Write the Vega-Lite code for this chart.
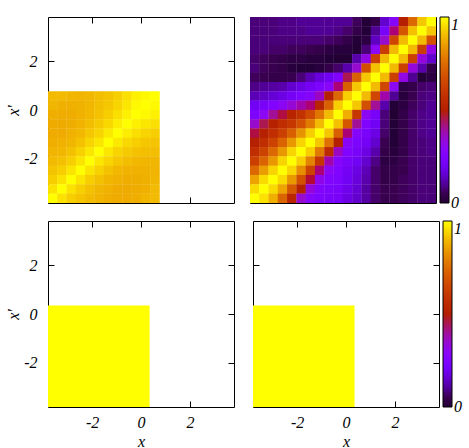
{
"$schema":"https://vega.github.io/schema/vega-lite/v6.json",
"padding":{"left":5,"top":16,"right":0,"bottom":0},
"background":"white",
"config":{
"view":{"stroke":"#000","strokeWidth":1},
"axis":{"domain":false,"grid":false,"tickSize":-6,"tickColor":"#000","tickWidth":1,"labelFont":"Liberation Serif","labelFontStyle":"italic","labelFontSize":16,"labelColor":"#000","labelPadding":17,"titleFont":"Liberation Serif","titleFontStyle":"italic","titleFontSize":16,"titleFontWeight":"normal","titleColor":"#000","labelExpr":"replace(datum.label,'−','-')"},
"legend":{"title":null,"gradientLength":186,"gradientThickness":9,"offset":3,"padding":0,"labelOffset":8,"gradientStrokeColor":"#000","gradientStrokeWidth":1,"labelFont":"Liberation Serif","labelFontStyle":"italic","labelFontSize":16,"labelColor":"#000"}
},
"datasets":{
"blk":[{"x0":-3.8,"x1":0.35,"y0":-3.8,"y1":0.35,"v":1}],
"tl":[
{"x":-3.61,"y":0.57,"v":0.9},{"x":-3.23,"y":0.57,"v":0.9},{"x":-2.85,"y":0.57,"v":0.895},{"x":-2.47,"y":0.57,"v":0.89},{"x":-2.09,"y":0.57,"v":0.895},{"x":-1.71,"y":0.57,"v":0.905},{"x":-1.33,"y":0.57,"v":0.915},{"x":-0.95,"y":0.57,"v":0.93},{"x":-0.57,"y":0.57,"v":0.955},{"x":-0.19,"y":0.57,"v":0.98},{"x":0.19,"y":0.57,"v":0.99},{"x":0.57,"y":0.57,"v":1},
{"x":-3.61,"y":0.19,"v":0.893},{"x":-3.23,"y":0.19,"v":0.883},{"x":-2.85,"y":0.19,"v":0.883},{"x":-2.47,"y":0.19,"v":0.887},{"x":-2.09,"y":0.19,"v":0.895},{"x":-1.71,"y":0.19,"v":0.907},{"x":-1.33,"y":0.19,"v":0.92},{"x":-0.95,"y":0.19,"v":0.94},{"x":-0.57,"y":0.19,"v":0.965},{"x":-0.19,"y":0.19,"v":0.99},{"x":0.19,"y":0.19,"v":1},{"x":0.57,"y":0.19,"v":0.99},
{"x":-3.61,"y":-0.19,"v":0.88},{"x":-3.23,"y":-0.19,"v":0.877},{"x":-2.85,"y":-0.19,"v":0.878},{"x":-2.47,"y":-0.19,"v":0.885},{"x":-2.09,"y":-0.19,"v":0.897},{"x":-1.71,"y":-0.19,"v":0.913},{"x":-1.33,"y":-0.19,"v":0.93},{"x":-0.95,"y":-0.19,"v":0.955},{"x":-0.57,"y":-0.19,"v":0.98},{"x":-0.19,"y":-0.19,"v":1},{"x":0.19,"y":-0.19,"v":0.99},{"x":0.57,"y":-0.19,"v":0.98},
{"x":-3.61,"y":-0.57,"v":0.875},{"x":-3.23,"y":-0.57,"v":0.873},{"x":-2.85,"y":-0.57,"v":0.878},{"x":-2.47,"y":-0.57,"v":0.888},{"x":-2.09,"y":-0.57,"v":0.905},{"x":-1.71,"y":-0.57,"v":0.925},{"x":-1.33,"y":-0.57,"v":0.945},{"x":-0.95,"y":-0.57,"v":0.975},{"x":-0.57,"y":-0.57,"v":1},{"x":-0.19,"y":-0.57,"v":0.98},{"x":0.19,"y":-0.57,"v":0.965},{"x":0.57,"y":-0.57,"v":0.955},
{"x":-3.61,"y":-0.95,"v":0.875},{"x":-3.23,"y":-0.95,"v":0.875},{"x":-2.85,"y":-0.95,"v":0.884},{"x":-2.47,"y":-0.95,"v":0.897},{"x":-2.09,"y":-0.95,"v":0.92},{"x":-1.71,"y":-0.95,"v":0.94},{"x":-1.33,"y":-0.95,"v":0.97},{"x":-0.95,"y":-0.95,"v":1},{"x":-0.57,"y":-0.95,"v":0.975},{"x":-0.19,"y":-0.95,"v":0.955},{"x":0.19,"y":-0.95,"v":0.94},{"x":0.57,"y":-0.95,"v":0.93},
{"x":-3.61,"y":-1.33,"v":0.88},{"x":-3.23,"y":-1.33,"v":0.885},{"x":-2.85,"y":-1.33,"v":0.895},{"x":-2.47,"y":-1.33,"v":0.912},{"x":-2.09,"y":-1.33,"v":0.94},{"x":-1.71,"y":-1.33,"v":0.965},{"x":-1.33,"y":-1.33,"v":1},{"x":-0.95,"y":-1.33,"v":0.97},{"x":-0.57,"y":-1.33,"v":0.945},{"x":-0.19,"y":-1.33,"v":0.93},{"x":0.19,"y":-1.33,"v":0.92},{"x":0.57,"y":-1.33,"v":0.915},
{"x":-3.61,"y":-1.71,"v":0.89},{"x":-3.23,"y":-1.71,"v":0.895},{"x":-2.85,"y":-1.71,"v":0.91},{"x":-2.47,"y":-1.71,"v":0.935},{"x":-2.09,"y":-1.71,"v":0.965},{"x":-1.71,"y":-1.71,"v":1},{"x":-1.33,"y":-1.71,"v":0.965},{"x":-0.95,"y":-1.71,"v":0.94},{"x":-0.57,"y":-1.71,"v":0.925},{"x":-0.19,"y":-1.71,"v":0.913},{"x":0.19,"y":-1.71,"v":0.907},{"x":0.57,"y":-1.71,"v":0.905},
{"x":-3.61,"y":-2.09,"v":0.9},{"x":-3.23,"y":-2.09,"v":0.91},{"x":-2.85,"y":-2.09,"v":0.932},{"x":-2.47,"y":-2.09,"v":0.963},{"x":-2.09,"y":-2.09,"v":1},{"x":-1.71,"y":-2.09,"v":0.965},{"x":-1.33,"y":-2.09,"v":0.94},{"x":-0.95,"y":-2.09,"v":0.92},{"x":-0.57,"y":-2.09,"v":0.905},{"x":-0.19,"y":-2.09,"v":0.897},{"x":0.19,"y":-2.09,"v":0.895},{"x":0.57,"y":-2.09,"v":0.895},
{"x":-3.61,"y":-2.47,"v":0.915},{"x":-3.23,"y":-2.47,"v":0.93},{"x":-2.85,"y":-2.47,"v":0.963},{"x":-2.47,"y":-2.47,"v":1},{"x":-2.09,"y":-2.47,"v":0.963},{"x":-1.71,"y":-2.47,"v":0.935},{"x":-1.33,"y":-2.47,"v":0.912},{"x":-0.95,"y":-2.47,"v":0.897},{"x":-0.57,"y":-2.47,"v":0.888},{"x":-0.19,"y":-2.47,"v":0.885},{"x":0.19,"y":-2.47,"v":0.887},{"x":0.57,"y":-2.47,"v":0.89},
{"x":-3.61,"y":-2.85,"v":0.93},{"x":-3.23,"y":-2.85,"v":0.96},{"x":-2.85,"y":-2.85,"v":1},{"x":-2.47,"y":-2.85,"v":0.963},{"x":-2.09,"y":-2.85,"v":0.932},{"x":-1.71,"y":-2.85,"v":0.91},{"x":-1.33,"y":-2.85,"v":0.895},{"x":-0.95,"y":-2.85,"v":0.884},{"x":-0.57,"y":-2.85,"v":0.878},{"x":-0.19,"y":-2.85,"v":0.878},{"x":0.19,"y":-2.85,"v":0.883},{"x":0.57,"y":-2.85,"v":0.895},
{"x":-3.61,"y":-3.23,"v":0.96},{"x":-3.23,"y":-3.23,"v":1},{"x":-2.85,"y":-3.23,"v":0.96},{"x":-2.47,"y":-3.23,"v":0.93},{"x":-2.09,"y":-3.23,"v":0.91},{"x":-1.71,"y":-3.23,"v":0.895},{"x":-1.33,"y":-3.23,"v":0.885},{"x":-0.95,"y":-3.23,"v":0.875},{"x":-0.57,"y":-3.23,"v":0.873},{"x":-0.19,"y":-3.23,"v":0.877},{"x":0.19,"y":-3.23,"v":0.883},{"x":0.57,"y":-3.23,"v":0.9},
{"x":-3.61,"y":-3.61,"v":1},{"x":-3.23,"y":-3.61,"v":0.96},{"x":-2.85,"y":-3.61,"v":0.93},{"x":-2.47,"y":-3.61,"v":0.915},{"x":-2.09,"y":-3.61,"v":0.9},{"x":-1.71,"y":-3.61,"v":0.89},{"x":-1.33,"y":-3.61,"v":0.88},{"x":-0.95,"y":-3.61,"v":0.875},{"x":-0.57,"y":-3.61,"v":0.875},{"x":-0.19,"y":-3.61,"v":0.88},{"x":0.19,"y":-3.61,"v":0.893},{"x":0.57,"y":-3.61,"v":0.9}
],
"corr":[
{"x":-3.61,"y":3.61,"v":0.08},{"x":-3.23,"y":3.61,"v":0.08},{"x":-2.85,"y":3.61,"v":0.08},{"x":-2.47,"y":3.61,"v":0.09},{"x":-2.09,"y":3.61,"v":0.09},{"x":-1.71,"y":3.61,"v":0.1},{"x":-1.33,"y":3.61,"v":0.1},{"x":-0.95,"y":3.61,"v":0.1},{"x":-0.57,"y":3.61,"v":0.1},{"x":-0.19,"y":3.61,"v":0.1},{"x":0.19,"y":3.61,"v":0.1},{"x":0.57,"y":3.61,"v":0.06},{"x":0.95,"y":3.61,"v":0.01},{"x":1.33,"y":3.61,"v":0.04},{"x":1.71,"y":3.61,"v":0.15},{"x":2.09,"y":3.61,"v":0.27},{"x":2.47,"y":3.61,"v":0.5},{"x":2.85,"y":3.61,"v":0.74},{"x":3.23,"y":3.61,"v":0.92},{"x":3.61,"y":3.61,"v":1},
{"x":-3.61,"y":3.23,"v":0.08},{"x":-3.23,"y":3.23,"v":0.08},{"x":-2.85,"y":3.23,"v":0.08},{"x":-2.47,"y":3.23,"v":0.09},{"x":-2.09,"y":3.23,"v":0.09},{"x":-1.71,"y":3.23,"v":0.09},{"x":-1.33,"y":3.23,"v":0.1},{"x":-0.95,"y":3.23,"v":0.1},{"x":-0.57,"y":3.23,"v":0.1},{"x":-0.19,"y":3.23,"v":0.09},{"x":0.19,"y":3.23,"v":0.07},{"x":0.57,"y":3.23,"v":0.04},{"x":0.95,"y":3.23,"v":0.01},{"x":1.33,"y":3.23,"v":0.1},{"x":1.71,"y":3.23,"v":0.22},{"x":2.09,"y":3.23,"v":0.42},{"x":2.47,"y":3.23,"v":0.7},{"x":2.85,"y":3.23,"v":0.91},{"x":3.23,"y":3.23,"v":1},{"x":3.61,"y":3.23,"v":0.92},
{"x":-3.61,"y":2.85,"v":0.08},{"x":-3.23,"y":2.85,"v":0.08},{"x":-2.85,"y":2.85,"v":0.08},{"x":-2.47,"y":2.85,"v":0.08},{"x":-2.09,"y":2.85,"v":0.08},{"x":-1.71,"y":2.85,"v":0.08},{"x":-1.33,"y":2.85,"v":0.08},{"x":-0.95,"y":2.85,"v":0.08},{"x":-0.57,"y":2.85,"v":0.07},{"x":-0.19,"y":2.85,"v":0.06},{"x":0.19,"y":2.85,"v":0.04},{"x":0.57,"y":2.85,"v":0.01},{"x":0.95,"y":2.85,"v":0.03},{"x":1.33,"y":2.85,"v":0.14},{"x":1.71,"y":2.85,"v":0.35},{"x":2.09,"y":2.85,"v":0.65},{"x":2.47,"y":2.85,"v":0.9},{"x":2.85,"y":2.85,"v":1},{"x":3.23,"y":2.85,"v":0.9},{"x":3.61,"y":2.85,"v":0.68},
{"x":-3.61,"y":2.47,"v":0.08},{"x":-3.23,"y":2.47,"v":0.08},{"x":-2.85,"y":2.47,"v":0.07},{"x":-2.47,"y":2.47,"v":0.07},{"x":-2.09,"y":2.47,"v":0.06},{"x":-1.71,"y":2.47,"v":0.06},{"x":-1.33,"y":2.47,"v":0.05},{"x":-0.95,"y":2.47,"v":0.04},{"x":-0.57,"y":2.47,"v":0.03},{"x":-0.19,"y":2.47,"v":0.02},{"x":0.19,"y":2.47,"v":0.02},{"x":0.57,"y":2.47,"v":0},{"x":0.95,"y":2.47,"v":0.08},{"x":1.33,"y":2.47,"v":0.3},{"x":1.71,"y":2.47,"v":0.62},{"x":2.09,"y":2.47,"v":0.9},{"x":2.47,"y":2.47,"v":1},{"x":2.85,"y":2.47,"v":0.9},{"x":3.23,"y":2.47,"v":0.62},{"x":3.61,"y":2.47,"v":0.32},
{"x":-3.61,"y":2.09,"v":0.07},{"x":-3.23,"y":2.09,"v":0.06},{"x":-2.85,"y":2.09,"v":0.05},{"x":-2.47,"y":2.09,"v":0.04},{"x":-2.09,"y":2.09,"v":0.03},{"x":-1.71,"y":2.09,"v":0.03},{"x":-1.33,"y":2.09,"v":0.02},{"x":-0.95,"y":2.09,"v":0.02},{"x":-0.57,"y":2.09,"v":0.01},{"x":-0.19,"y":2.09,"v":0},{"x":0.19,"y":2.09,"v":0},{"x":0.57,"y":2.09,"v":0.12},{"x":0.95,"y":2.09,"v":0.32},{"x":1.33,"y":2.09,"v":0.63},{"x":1.71,"y":2.09,"v":0.9},{"x":2.09,"y":2.09,"v":1},{"x":2.47,"y":2.09,"v":0.9},{"x":2.85,"y":2.09,"v":0.63},{"x":3.23,"y":2.09,"v":0.33},{"x":3.61,"y":2.09,"v":0.15},
{"x":-3.61,"y":1.71,"v":0.08},{"x":-3.23,"y":1.71,"v":0.06},{"x":-2.85,"y":1.71,"v":0.05},{"x":-2.47,"y":1.71,"v":0.04},{"x":-2.09,"y":1.71,"v":0.02},{"x":-1.71,"y":1.71,"v":0.01},{"x":-1.33,"y":1.71,"v":0.01},{"x":-0.95,"y":1.71,"v":0.02},{"x":-0.57,"y":1.71,"v":0.04},{"x":-0.19,"y":1.71,"v":0.07},{"x":0.19,"y":1.71,"v":0.12},{"x":0.57,"y":1.71,"v":0.35},{"x":0.95,"y":1.71,"v":0.67},{"x":1.33,"y":1.71,"v":0.91},{"x":1.71,"y":1.71,"v":1},{"x":2.09,"y":1.71,"v":0.9},{"x":2.47,"y":1.71,"v":0.63},{"x":2.85,"y":1.71,"v":0.33},{"x":3.23,"y":1.71,"v":0.12},{"x":3.61,"y":1.71,"v":0.04},
{"x":-3.61,"y":1.33,"v":0.06},{"x":-3.23,"y":1.33,"v":0.05},{"x":-2.85,"y":1.33,"v":0.04},{"x":-2.47,"y":1.33,"v":0.04},{"x":-2.09,"y":1.33,"v":0.05},{"x":-1.71,"y":1.33,"v":0.08},{"x":-1.33,"y":1.33,"v":0.13},{"x":-0.95,"y":1.33,"v":0.17},{"x":-0.57,"y":1.33,"v":0.2},{"x":-0.19,"y":1.33,"v":0.25},{"x":0.19,"y":1.33,"v":0.45},{"x":0.57,"y":1.33,"v":0.72},{"x":0.95,"y":1.33,"v":0.92},{"x":1.33,"y":1.33,"v":1},{"x":1.71,"y":1.33,"v":0.9},{"x":2.09,"y":1.33,"v":0.63},{"x":2.47,"y":1.33,"v":0.32},{"x":2.85,"y":1.33,"v":0.1},{"x":3.23,"y":1.33,"v":0.01},{"x":3.61,"y":1.33,"v":0.03},
{"x":-3.61,"y":0.95,"v":0.09},{"x":-3.23,"y":0.95,"v":0.1},{"x":-2.85,"y":0.95,"v":0.11},{"x":-2.47,"y":0.95,"v":0.12},{"x":-2.09,"y":0.95,"v":0.15},{"x":-1.71,"y":0.95,"v":0.18},{"x":-1.33,"y":0.95,"v":0.21},{"x":-0.95,"y":0.95,"v":0.24},{"x":-0.57,"y":0.95,"v":0.28},{"x":-0.19,"y":0.95,"v":0.42},{"x":0.19,"y":0.95,"v":0.72},{"x":0.57,"y":0.95,"v":0.92},{"x":0.95,"y":0.95,"v":1},{"x":1.33,"y":0.95,"v":0.9},{"x":1.71,"y":0.95,"v":0.65},{"x":2.09,"y":0.95,"v":0.3},{"x":2.47,"y":0.95,"v":0.03},{"x":2.85,"y":0.95,"v":0.04},{"x":3.23,"y":0.95,"v":0.07},{"x":3.61,"y":0.95,"v":0.08},
{"x":-3.61,"y":0.57,"v":0.13},{"x":-3.23,"y":0.57,"v":0.14},{"x":-2.85,"y":0.57,"v":0.16},{"x":-2.47,"y":0.57,"v":0.18},{"x":-2.09,"y":0.57,"v":0.21},{"x":-1.71,"y":0.57,"v":0.24},{"x":-1.33,"y":0.57,"v":0.27},{"x":-0.95,"y":0.57,"v":0.36},{"x":-0.57,"y":0.57,"v":0.5},{"x":-0.19,"y":0.57,"v":0.74},{"x":0.19,"y":0.57,"v":0.93},{"x":0.57,"y":0.57,"v":1},{"x":0.95,"y":0.57,"v":0.9},{"x":1.33,"y":0.57,"v":0.65},{"x":1.71,"y":0.57,"v":0.38},{"x":2.09,"y":0.57,"v":0.1},{"x":2.47,"y":0.57,"v":0.02},{"x":2.85,"y":0.57,"v":0.05},{"x":3.23,"y":0.57,"v":0.08},{"x":3.61,"y":0.57,"v":0.09},
{"x":-3.61,"y":0.19,"v":0.2},{"x":-3.23,"y":0.19,"v":0.22},{"x":-2.85,"y":0.19,"v":0.25},{"x":-2.47,"y":0.19,"v":0.29},{"x":-2.09,"y":0.19,"v":0.34},{"x":-1.71,"y":0.19,"v":0.38},{"x":-1.33,"y":0.19,"v":0.42},{"x":-0.95,"y":0.19,"v":0.52},{"x":-0.57,"y":0.19,"v":0.72},{"x":-0.19,"y":0.19,"v":0.93},{"x":0.19,"y":0.19,"v":1},{"x":0.57,"y":0.19,"v":0.92},{"x":0.95,"y":0.19,"v":0.68},{"x":1.33,"y":0.19,"v":0.4},{"x":1.71,"y":0.19,"v":0.12},{"x":2.09,"y":0.19,"v":0.01},{"x":2.47,"y":0.19,"v":0.03},{"x":2.85,"y":0.19,"v":0.06},{"x":3.23,"y":0.19,"v":0.08},{"x":3.61,"y":0.19,"v":0.1},
{"x":-3.61,"y":-0.19,"v":0.24},{"x":-3.23,"y":-0.19,"v":0.3},{"x":-2.85,"y":-0.19,"v":0.4},{"x":-2.47,"y":-0.19,"v":0.46},{"x":-2.09,"y":-0.19,"v":0.52},{"x":-1.71,"y":-0.19,"v":0.58},{"x":-1.33,"y":-0.19,"v":0.66},{"x":-0.95,"y":-0.19,"v":0.77},{"x":-0.57,"y":-0.19,"v":0.9},{"x":-0.19,"y":-0.19,"v":1},{"x":0.19,"y":-0.19,"v":0.88},{"x":0.57,"y":-0.19,"v":0.6},{"x":0.95,"y":-0.19,"v":0.3},{"x":1.33,"y":-0.19,"v":0.22},{"x":1.71,"y":-0.19,"v":0.08},{"x":2.09,"y":-0.19,"v":0},{"x":2.47,"y":-0.19,"v":0.04},{"x":2.85,"y":-0.19,"v":0.07},{"x":3.23,"y":-0.19,"v":0.09},{"x":3.61,"y":-0.19,"v":0.1},
{"x":-3.61,"y":-0.57,"v":0.35},{"x":-3.23,"y":-0.57,"v":0.45},{"x":-2.85,"y":-0.57,"v":0.5},{"x":-2.47,"y":-0.57,"v":0.56},{"x":-2.09,"y":-0.57,"v":0.6},{"x":-1.71,"y":-0.57,"v":0.68},{"x":-1.33,"y":-0.57,"v":0.78},{"x":-0.95,"y":-0.57,"v":0.9},{"x":-0.57,"y":-0.57,"v":1},{"x":-0.19,"y":-0.57,"v":0.91},{"x":0.19,"y":-0.57,"v":0.7},{"x":0.57,"y":-0.57,"v":0.4},{"x":0.95,"y":-0.57,"v":0.25},{"x":1.33,"y":-0.57,"v":0.2},{"x":1.71,"y":-0.57,"v":0.08},{"x":2.09,"y":-0.57,"v":0.01},{"x":2.47,"y":-0.57,"v":0.04},{"x":2.85,"y":-0.57,"v":0.07},{"x":3.23,"y":-0.57,"v":0.09},{"x":3.61,"y":-0.57,"v":0.1},
{"x":-3.61,"y":-0.95,"v":0.46},{"x":-3.23,"y":-0.95,"v":0.5},{"x":-2.85,"y":-0.95,"v":0.56},{"x":-2.47,"y":-0.95,"v":0.63},{"x":-2.09,"y":-0.95,"v":0.72},{"x":-1.71,"y":-0.95,"v":0.83},{"x":-1.33,"y":-0.95,"v":0.93},{"x":-0.95,"y":-0.95,"v":1},{"x":-0.57,"y":-0.95,"v":0.92},{"x":-0.19,"y":-0.95,"v":0.72},{"x":0.19,"y":-0.95,"v":0.42},{"x":0.57,"y":-0.95,"v":0.27},{"x":0.95,"y":-0.95,"v":0.23},{"x":1.33,"y":-0.95,"v":0.18},{"x":1.71,"y":-0.95,"v":0.07},{"x":2.09,"y":-0.95,"v":0.01},{"x":2.47,"y":-0.95,"v":0.04},{"x":2.85,"y":-0.95,"v":0.07},{"x":3.23,"y":-0.95,"v":0.09},{"x":3.61,"y":-0.95,"v":0.1},
{"x":-3.61,"y":-1.33,"v":0.5},{"x":-3.23,"y":-1.33,"v":0.56},{"x":-2.85,"y":-1.33,"v":0.64},{"x":-2.47,"y":-1.33,"v":0.73},{"x":-2.09,"y":-1.33,"v":0.84},{"x":-1.71,"y":-1.33,"v":0.94},{"x":-1.33,"y":-1.33,"v":1},{"x":-0.95,"y":-1.33,"v":0.92},{"x":-0.57,"y":-1.33,"v":0.76},{"x":-0.19,"y":-1.33,"v":0.5},{"x":0.19,"y":-1.33,"v":0.28},{"x":0.57,"y":-1.33,"v":0.24},{"x":0.95,"y":-1.33,"v":0.21},{"x":1.33,"y":-1.33,"v":0.15},{"x":1.71,"y":-1.33,"v":0.05},{"x":2.09,"y":-1.33,"v":0.01},{"x":2.47,"y":-1.33,"v":0.04},{"x":2.85,"y":-1.33,"v":0.07},{"x":3.23,"y":-1.33,"v":0.08},{"x":3.61,"y":-1.33,"v":0.09},
{"x":-3.61,"y":-1.71,"v":0.56},{"x":-3.23,"y":-1.71,"v":0.64},{"x":-2.85,"y":-1.71,"v":0.74},{"x":-2.47,"y":-1.71,"v":0.84},{"x":-2.09,"y":-1.71,"v":0.94},{"x":-1.71,"y":-1.71,"v":1},{"x":-1.33,"y":-1.71,"v":0.93},{"x":-0.95,"y":-1.71,"v":0.78},{"x":-0.57,"y":-1.71,"v":0.55},{"x":-0.19,"y":-1.71,"v":0.36},{"x":0.19,"y":-1.71,"v":0.25},{"x":0.57,"y":-1.71,"v":0.22},{"x":0.95,"y":-1.71,"v":0.18},{"x":1.33,"y":-1.71,"v":0.12},{"x":1.71,"y":-1.71,"v":0.04},{"x":2.09,"y":-1.71,"v":0.02},{"x":2.47,"y":-1.71,"v":0.04},{"x":2.85,"y":-1.71,"v":0.07},{"x":3.23,"y":-1.71,"v":0.08},{"x":3.61,"y":-1.71,"v":0.09},
{"x":-3.61,"y":-2.09,"v":0.63},{"x":-3.23,"y":-2.09,"v":0.73},{"x":-2.85,"y":-2.09,"v":0.84},{"x":-2.47,"y":-2.09,"v":0.94},{"x":-2.09,"y":-2.09,"v":1},{"x":-1.71,"y":-2.09,"v":0.93},{"x":-1.33,"y":-2.09,"v":0.8},{"x":-0.95,"y":-2.09,"v":0.6},{"x":-0.57,"y":-2.09,"v":0.38},{"x":-0.19,"y":-2.09,"v":0.27},{"x":0.19,"y":-2.09,"v":0.23},{"x":0.57,"y":-2.09,"v":0.2},{"x":0.95,"y":-2.09,"v":0.15},{"x":1.33,"y":-2.09,"v":0.09},{"x":1.71,"y":-2.09,"v":0.03},{"x":2.09,"y":-2.09,"v":0.03},{"x":2.47,"y":-2.09,"v":0.05},{"x":2.85,"y":-2.09,"v":0.07},{"x":3.23,"y":-2.09,"v":0.08},{"x":3.61,"y":-2.09,"v":0.08},
{"x":-3.61,"y":-2.47,"v":0.74},{"x":-3.23,"y":-2.47,"v":0.85},{"x":-2.85,"y":-2.47,"v":0.94},{"x":-2.47,"y":-2.47,"v":1},{"x":-2.09,"y":-2.47,"v":0.94},{"x":-1.71,"y":-2.47,"v":0.82},{"x":-1.33,"y":-2.47,"v":0.64},{"x":-0.95,"y":-2.47,"v":0.42},{"x":-0.57,"y":-2.47,"v":0.29},{"x":-0.19,"y":-2.47,"v":0.25},{"x":0.19,"y":-2.47,"v":0.21},{"x":0.57,"y":-2.47,"v":0.18},{"x":0.95,"y":-2.47,"v":0.13},{"x":1.33,"y":-2.47,"v":0.07},{"x":1.71,"y":-2.47,"v":0.04},{"x":2.09,"y":-2.47,"v":0.04},{"x":2.47,"y":-2.47,"v":0.05},{"x":2.85,"y":-2.47,"v":0.07},{"x":3.23,"y":-2.47,"v":0.08},{"x":3.61,"y":-2.47,"v":0.08},
{"x":-3.61,"y":-2.85,"v":0.86},{"x":-3.23,"y":-2.85,"v":0.95},{"x":-2.85,"y":-2.85,"v":1},{"x":-2.47,"y":-2.85,"v":0.95},{"x":-2.09,"y":-2.85,"v":0.84},{"x":-1.71,"y":-2.85,"v":0.68},{"x":-1.33,"y":-2.85,"v":0.47},{"x":-0.95,"y":-2.85,"v":0.31},{"x":-0.57,"y":-2.85,"v":0.25},{"x":-0.19,"y":-2.85,"v":0.24},{"x":0.19,"y":-2.85,"v":0.2},{"x":0.57,"y":-2.85,"v":0.17},{"x":0.95,"y":-2.85,"v":0.12},{"x":1.33,"y":-2.85,"v":0.07},{"x":1.71,"y":-2.85,"v":0.04},{"x":2.09,"y":-2.85,"v":0.04},{"x":2.47,"y":-2.85,"v":0.06},{"x":2.85,"y":-2.85,"v":0.07},{"x":3.23,"y":-2.85,"v":0.08},{"x":3.61,"y":-2.85,"v":0.08},
{"x":-3.61,"y":-3.23,"v":0.95},{"x":-3.23,"y":-3.23,"v":1},{"x":-2.85,"y":-3.23,"v":0.95},{"x":-2.47,"y":-3.23,"v":0.86},{"x":-2.09,"y":-3.23,"v":0.7},{"x":-1.71,"y":-3.23,"v":0.5},{"x":-1.33,"y":-3.23,"v":0.33},{"x":-0.95,"y":-3.23,"v":0.26},{"x":-0.57,"y":-3.23,"v":0.24},{"x":-0.19,"y":-3.23,"v":0.23},{"x":0.19,"y":-3.23,"v":0.19},{"x":0.57,"y":-3.23,"v":0.16},{"x":0.95,"y":-3.23,"v":0.11},{"x":1.33,"y":-3.23,"v":0.07},{"x":1.71,"y":-3.23,"v":0.05},{"x":2.09,"y":-3.23,"v":0.05},{"x":2.47,"y":-3.23,"v":0.06},{"x":2.85,"y":-3.23,"v":0.07},{"x":3.23,"y":-3.23,"v":0.08},{"x":3.61,"y":-3.23,"v":0.08},
{"x":-3.61,"y":-3.61,"v":1},{"x":-3.23,"y":-3.61,"v":0.96},{"x":-2.85,"y":-3.61,"v":0.88},{"x":-2.47,"y":-3.61,"v":0.73},{"x":-2.09,"y":-3.61,"v":0.53},{"x":-1.71,"y":-3.61,"v":0.35},{"x":-1.33,"y":-3.61,"v":0.27},{"x":-0.95,"y":-3.61,"v":0.24},{"x":-0.57,"y":-3.61,"v":0.23},{"x":-0.19,"y":-3.61,"v":0.22},{"x":0.19,"y":-3.61,"v":0.18},{"x":0.57,"y":-3.61,"v":0.15},{"x":0.95,"y":-3.61,"v":0.11},{"x":1.33,"y":-3.61,"v":0.07},{"x":1.71,"y":-3.61,"v":0.05},{"x":2.09,"y":-3.61,"v":0.05},{"x":2.47,"y":-3.61,"v":0.06},{"x":2.85,"y":-3.61,"v":0.07},{"x":3.23,"y":-3.61,"v":0.08},{"x":3.61,"y":-3.61,"v":0.08}
]
},
"spacing":8,
"resolve":{"scale":{"color":"independent"},"legend":{"color":"independent"}},
"vconcat":[
{"spacing":14,"resolve":{"scale":{"color":"independent"},"legend":{"color":"independent"}},
"hconcat":[
{"width":186,"height":186,"data":{"name":"tl"},
"layer":[
{"mark":{"type":"rect","width":9.6,"height":9.6,"clip":true},
"encoding":{
"x":{"field":"x","type":"quantitative","scale":{"domain":[-3.8,3.8],"nice":false,"zero":false},"axis":{"values":[-2,0,2],"labels":false,"title":null}},
"y":{"field":"y","type":"quantitative","scale":{"domain":[-3.8,3.8],"nice":false,"zero":false},"axis":{"values":[-2,0,2],"title":"x'","titlePadding":2}},
"color":{"field":"v","type":"quantitative","scale":{"domain":[0,0.05,0.1,0.15,0.2,0.25,0.3,0.35,0.4,0.45,0.5,0.55,0.6,0.65,0.7,0.75,0.8,0.85,0.9,0.95,1],"range":["#000000","#39004f","#510096","#6301ce","#7202f3","#8004ff","#8c07f3","#970bce","#a11096","#ab174f","#b42000","#bd2a00","#c63700","#ce4600","#d55700","#dd6c00","#e48300","#eb9d00","#f2ba00","#f9db00","#ffff00"],"clamp":true},"legend":null}}},
{"mark":{"type":"point","opacity":0},
"encoding":{
"x":{"field":"x","type":"quantitative","axis":{"orient":"top","values":[-2,0,2],"labels":false,"title":null}},
"y":{"field":"y","type":"quantitative","axis":{"orient":"right","values":[-2,0,2],"labels":false,"title":null}}}}
],
"resolve":{"axis":{"x":"independent","y":"independent"}}},
{"width":186,"height":186,"data":{"name":"corr"},
"layer":[
{"mark":{"type":"rect","width":9.6,"height":9.6,"clip":true},
"encoding":{
"x":{"field":"x","type":"quantitative","scale":{"domain":[-3.8,3.8],"nice":false,"zero":false},"axis":{"values":[-2,0,2],"labels":false,"title":null}},
"y":{"field":"y","type":"quantitative","scale":{"domain":[-3.8,3.8],"nice":false,"zero":false},"axis":{"values":[-2,0,2],"labels":false,"title":null}},
"color":{"field":"v","type":"quantitative","scale":{"domain":[0,0.05,0.1,0.15,0.2,0.25,0.3,0.35,0.4,0.45,0.5,0.55,0.6,0.65,0.7,0.75,0.8,0.85,0.9,0.95,1],"range":["#000000","#39004f","#510096","#6301ce","#7202f3","#8004ff","#8c07f3","#970bce","#a11096","#ab174f","#b42000","#bd2a00","#c63700","#ce4600","#d55700","#dd6c00","#e48300","#eb9d00","#f2ba00","#f9db00","#ffff00"],"clamp":true},"legend":{"values":[0,1],"format":"d","encode":{"labels":{"update":{"baseline":{"signal":"datum.value > 0.5 ? 'top' : 'middle'"}}}}}}}},
{"mark":{"type":"point","opacity":0},
"encoding":{
"x":{"field":"x","type":"quantitative","axis":{"orient":"top","values":[-2,0,2],"labels":false,"title":null}},
"y":{"field":"y","type":"quantitative","axis":{"orient":"right","values":[-2,0,2],"labels":false,"title":null}}}}
],
"resolve":{"axis":{"x":"independent","y":"independent"}}}
]},
{"spacing":14,"resolve":{"scale":{"color":"independent"},"legend":{"color":"independent"}},
"hconcat":[
{"width":186,"height":186,"data":{"name":"blk"},
"layer":[
{"mark":{"type":"rect"},
"encoding":{
"x":{"field":"x0","type":"quantitative","scale":{"domain":[-3.8,3.8],"nice":false,"zero":false},"axis":{"values":[-2,0,2],"title":"x","labelPadding":13,"titlePadding":3}},
"x2":{"field":"x1"},
"y":{"field":"y0","type":"quantitative","scale":{"domain":[-3.8,3.8],"nice":false,"zero":false},"axis":{"values":[-2,0,2],"title":"x'","titlePadding":2}},
"y2":{"field":"y1"},
"color":{"field":"v","type":"quantitative","scale":{"domain":[0,0.05,0.1,0.15,0.2,0.25,0.3,0.35,0.4,0.45,0.5,0.55,0.6,0.65,0.7,0.75,0.8,0.85,0.9,0.95,1],"range":["#000000","#39004f","#510096","#6301ce","#7202f3","#8004ff","#8c07f3","#970bce","#a11096","#ab174f","#b42000","#bd2a00","#c63700","#ce4600","#d55700","#dd6c00","#e48300","#eb9d00","#f2ba00","#f9db00","#ffff00"],"clamp":true},"legend":null}}},
{"mark":{"type":"point","opacity":0},
"encoding":{
"x":{"field":"x0","type":"quantitative","axis":{"orient":"top","values":[-2,0,2],"labels":false,"title":null}},
"y":{"field":"y0","type":"quantitative","axis":{"orient":"right","values":[-2,0,2],"labels":false,"title":null}}}}
],
"resolve":{"axis":{"x":"independent","y":"independent"}}},
{"width":186,"height":186,"data":{"name":"blk"},
"layer":[
{"mark":{"type":"rect"},
"encoding":{
"x":{"field":"x0","type":"quantitative","scale":{"domain":[-3.8,3.8],"nice":false,"zero":false},"axis":{"values":[-2,0,2],"title":"x","labelPadding":13,"titlePadding":3}},
"x2":{"field":"x1"},
"y":{"field":"y0","type":"quantitative","scale":{"domain":[-3.8,3.8],"nice":false,"zero":false},"axis":{"values":[-2,0,2],"labels":false,"title":null}},
"y2":{"field":"y1"},
"color":{"field":"v","type":"quantitative","scale":{"domain":[0,0.05,0.1,0.15,0.2,0.25,0.3,0.35,0.4,0.45,0.5,0.55,0.6,0.65,0.7,0.75,0.8,0.85,0.9,0.95,1],"range":["#000000","#39004f","#510096","#6301ce","#7202f3","#8004ff","#8c07f3","#970bce","#a11096","#ab174f","#b42000","#bd2a00","#c63700","#ce4600","#d55700","#dd6c00","#e48300","#eb9d00","#f2ba00","#f9db00","#ffff00"],"clamp":true},"legend":{"values":[0,1],"format":"d","encode":{"labels":{"update":{"baseline":{"signal":"datum.value > 0.5 ? 'top' : 'middle'"}}}}}}}},
{"mark":{"type":"point","opacity":0},
"encoding":{
"x":{"field":"x0","type":"quantitative","axis":{"orient":"top","values":[-2,0,2],"labels":false,"title":null}},
"y":{"field":"y0","type":"quantitative","axis":{"orient":"right","values":[-2,0,2],"labels":false,"title":null}}}}
],
"resolve":{"axis":{"x":"independent","y":"independent"}}}
]}
]
}
